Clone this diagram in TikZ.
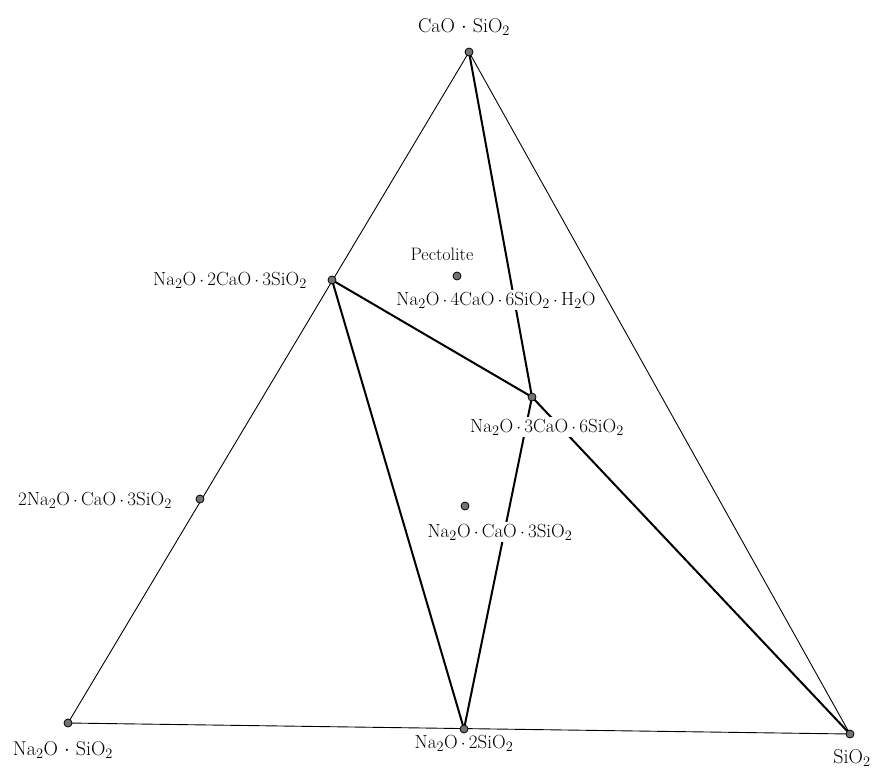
\documentclass[tikz,border=0pt]{standalone}
\usepackage{amsmath}
\newcommand\md{\,$\cdot$\,}
\newcommand\bd{\ $\cdot$\ }
\begin{document}
\begin{tikzpicture}[x=1pt,y=-1pt,
  thin line/.style={line width=0.9pt},
  thick line/.style={line width=2pt},
  pt/.style={circle,draw=black,fill=black!55,line width=0.8pt,inner sep=0pt,minimum size=8pt},
  lab/.style={anchor=base,fill=white,inner sep=1.5pt,font=\fontsize{19}{22}\selectfont},
  biglab/.style={anchor=base,inner sep=1pt,font=\fontsize{20}{24}\selectfont}]
\useasboundingbox (0,0) rectangle (877,771);
% vertices
\coordinate (A) at (469,52);
\coordinate (B) at (68,723);
\coordinate (C) at (850,734);
\coordinate (D) at (332,280);
\coordinate (E) at (200,499);
\coordinate (P) at (457,276);
\coordinate (F) at (532,397);
\coordinate (G) at (465,506);
\coordinate (H) at (464,729);
% triangle
\draw[thin line] (A) -- (B) -- (C) -- cycle;
% tie lines
\draw[thick line] (A) -- (F) -- (H);
\draw[thick line] (D) -- (H);
\draw[thick line] (D) -- (F) -- (C);
% labels (white boxes break lines)
\node[biglab] (lA) at (464,32) {CaO\bd SiO$_2$};
\node[lab] (lD) at (230,285) {Na$_2$O\md 2CaO\md 3SiO$_2$};
\node[lab,font=\fontsize{18}{21}\selectfont] (lP) at (442,260) {Pectolite};
\node[lab] (lPf) at (496,305) {Na$_2$O\md 4CaO\md 6SiO$_2$\md H$_2$O};
\node[lab] (lF) at (547,432) {Na$_2$O\md 3CaO\md 6SiO$_2$};
\node[lab] (lE) at (95,505) {2Na$_2$O\md CaO\md 3SiO$_2$};
\node[lab] (lG) at (500,537) {Na$_2$O\md CaO\md 3SiO$_2$};
\node[biglab] (lB) at (63,755) {Na$_2$O\bd SiO$_2$};
\node[lab] (lH) at (464,748) {Na$_2$O\md 2SiO$_2$};
\node[biglab] (lC) at (852,763) {SiO$_2$};
% points
\foreach \p in {A,B,C,D,E,P,F,G,H} \node[pt] (n\p) at (\p) {};
\end{tikzpicture}
\end{document}
